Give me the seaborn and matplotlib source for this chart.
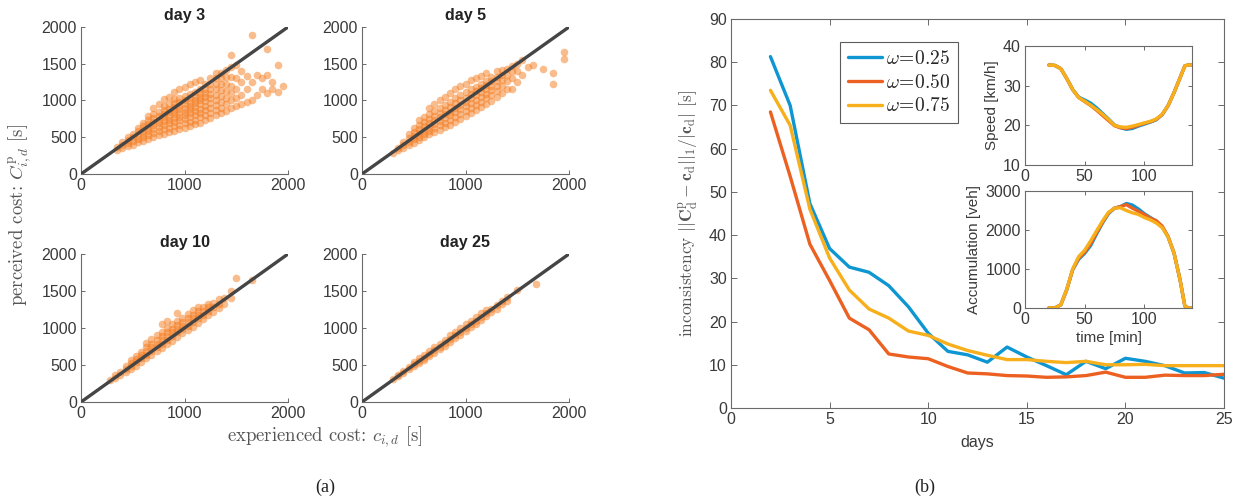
import numpy as np
import pandas as pd
import matplotlib
matplotlib.use("Agg")
import matplotlib.pyplot as plt
from matplotlib.lines import Line2D
import seaborn as sns

# ---------------- data: panel (a) scatter clouds ----------------
cost_limits = [0, 2000]
cost_ticks = [0, 500, 1000, 1500, 2000]
cost_xticks = [0, 1000, 2000]

day3_cols = [350, 400, 450, 500, 550, 600, 650, 700, 750, 800, 850, 900, 950, 1000, 1050,
             1100, 1150, 1200, 1250, 1300, 1350, 1400, 1450, 1500, 1550, 1600, 1650, 1700,
             1750, 1800, 1850, 1900, 1950]
day3_vals = [[330, 370], [360, 400, 430], [380, 420, 460, 500], [400, 450, 500, 540],
             [430, 480, 530, 580, 620], [450, 500, 550, 600, 650, 700],
             [480, 530, 580, 630, 680, 730, 790], [500, 560, 610, 660, 710, 760, 820, 900],
             [530, 590, 640, 690, 740, 790, 850, 950],
             [550, 610, 670, 720, 770, 820, 870, 930, 1020],
             [570, 630, 690, 740, 790, 840, 890, 950, 1050],
             [590, 650, 710, 760, 810, 860, 910, 960, 1020, 1120],
             [610, 670, 730, 780, 830, 880, 930, 980, 1040, 1150],
             [630, 690, 750, 800, 850, 900, 950, 1000, 1060, 1180],
             [650, 710, 770, 830, 880, 930, 980, 1030, 1090, 1220],
             [680, 740, 800, 860, 910, 960, 1010, 1060, 1110, 1250],
             [700, 770, 830, 890, 950, 1000, 1050, 1100, 1150, 1280],
             [730, 800, 870, 930, 990, 1050, 1100, 1160, 1230],
             [760, 830, 900, 970, 1030, 1090, 1150, 1220, 1300],
             [800, 870, 940, 1010, 1080, 1150, 1220, 1300, 1370],
             [830, 900, 980, 1060, 1140, 1220, 1300, 1380],
             [860, 950, 1040, 1130, 1220, 1320, 1420],
             [900, 1000, 1100, 1200, 1320, 1450, 1620],
             [920, 1040, 1160, 1300, 1480], [950, 1080, 1250, 1400], [980, 1150, 1330],
             [1000, 1250, 1890], [1080, 1350], [1150, 1300], [1100, 1350, 1700],
             [1150, 1250], [1120, 1480], [1200]]

day5_cols = [300, 350, 400, 450, 500, 550, 600, 650, 700, 750, 800, 850, 900, 950, 1000,
             1050, 1100, 1150, 1200, 1250, 1300, 1350, 1400, 1450, 1500, 1550, 1600, 1650,
             1750, 1850, 1950]
day5_vals = [[280], [320, 360], [350, 400, 440], [390, 440, 490, 540],
             [420, 470, 520, 570, 630], [460, 510, 560, 610, 670, 730],
             [500, 550, 600, 650, 710, 780], [540, 590, 640, 690, 750, 820, 900],
             [570, 630, 680, 730, 790, 860, 950], [600, 660, 720, 770, 830, 900, 1000],
             [640, 700, 760, 810, 870, 940, 1050], [670, 740, 800, 850, 910, 980, 1100],
             [710, 780, 840, 900, 960, 1030, 1150], [750, 820, 880, 940, 1000, 1070, 1200],
             [790, 860, 920, 980, 1040, 1110, 1230], [830, 900, 960, 1030, 1090, 1150, 1280],
             [870, 940, 1000, 1070, 1130, 1190, 1300], [910, 980, 1050, 1110, 1170, 1230, 1330],
             [950, 1030, 1090, 1150, 1210, 1270, 1380], [990, 1070, 1140, 1200, 1260, 1320],
             [1050, 1130, 1200, 1260, 1320, 1400], [1100, 1200, 1280, 1350, 1420],
             [1150, 1260, 1350, 1430], [1150, 1300, 1400, 1470], [1250, 1400, 1500],
             [1350, 1550], [1450], [1480], [1430], [1230, 1380], [1570, 1660]]

day10_cols = [280, 330, 380, 430, 480, 530, 580, 630, 680, 730, 780, 830, 880, 930, 980,
              1030, 1080, 1130, 1180, 1230, 1280, 1330, 1380, 1450, 1500, 1650]
day10_vals = [[300], [330, 360], [370, 400], [410, 450, 480], [450, 490, 530, 570],
              [490, 540, 580, 620], [540, 590, 630, 680], [590, 640, 690, 740, 800],
              [640, 690, 740, 790, 850], [690, 740, 790, 840, 900],
              [730, 790, 840, 890, 950, 1050], [780, 840, 890, 940, 1000, 1100],
              [830, 890, 940, 990, 1050], [880, 940, 990, 1040, 1100, 1200],
              [930, 980, 1030, 1080, 1140], [970, 1030, 1080, 1130, 1190],
              [1020, 1080, 1130, 1180, 1240], [1070, 1130, 1180, 1230, 1290],
              [1120, 1180, 1230, 1280], [1170, 1230, 1280, 1330], [1220, 1280, 1340],
              [1270, 1330, 1390], [1320, 1400], [1400, 1500], [1680], [1650]]

day25_cols = [300, 350, 400, 450, 500, 550, 600, 650, 700, 750, 800, 850, 900, 950, 1000,
              1050, 1100, 1150, 1200, 1250, 1300, 1350, 1400, 1500, 1680]
day25_vals = [[310], [350, 370], [390, 420], [440, 470], [480, 510, 540], [530, 560, 590],
              [570, 600, 640], [620, 650, 690], [660, 700, 740], [710, 750, 790],
              [760, 800, 840], [810, 850, 900], [860, 900, 950], [910, 950, 1000],
              [960, 1000, 1050], [1010, 1050, 1100], [1060, 1100, 1150], [1110, 1150, 1200],
              [1160, 1200, 1250], [1210, 1260], [1260, 1310], [1320, 1370], [1370, 1420],
              [1510], [1600]]

scatter_titles = ["day 3", "day 5", "day 10", "day 25"]

# ---------------- data: panel (b) ----------------
days = list(range(2, 26))
incons_025 = [81.3, 70.0, 47.3, 36.9, 32.6, 31.4, 28.3, 23.4, 17.3, 13.1, 12.3, 10.6, 14.1,
              11.8, 9.8, 7.7, 10.8, 9.1, 11.5, 10.8, 9.8, 8.1, 8.2, 6.9]
incons_050 = [68.5, 53.6, 37.9, 29.5, 20.8, 18.1, 12.5, 11.8, 11.4, 9.6, 8.1, 7.9, 7.5,
              7.4, 7.1, 7.2, 7.5, 8.3, 7.1, 7.1, 7.6, 7.5, 7.5, 7.8]
incons_075 = [73.5, 65.4, 46.0, 34.7, 27.3, 22.9, 20.8, 17.8, 16.8, 14.8, 13.3, 12.2, 11.2,
              11.2, 10.8, 10.5, 10.8, 10.0, 10.0, 10.1, 9.8, 9.8, 9.8, 9.8]
omega_labels = [r"$\omega\!=\!0.25$", r"$\omega\!=\!0.50$", r"$\omega\!=\!0.75$"]

time_min = [20, 25, 30, 35, 40, 45, 50, 55, 60, 65, 70, 75, 80, 85, 90, 95, 100, 105, 110,
            115, 120, 125, 130, 134, 137, 140]
speed_025 = [35.2, 35.1, 34.3, 31.8, 29.0, 27.1, 26.4, 25.6, 24.4, 23.0, 21.6, 20.1, 19.4,
             19.0, 19.2, 19.8, 20.3, 20.8, 21.4, 22.7, 25.0, 28.3, 32.0, 35.0, 35.2, 35.2]
speed_050 = [35.2, 35.1, 34.3, 31.8, 29.0, 27.0, 26.0, 25.0, 23.8, 22.5, 21.2, 19.9, 19.4,
             19.2, 19.5, 20.0, 20.5, 20.9, 21.5, 22.7, 25.0, 28.3, 32.0, 35.0, 35.2, 35.2]
speed_075 = [35.2, 35.1, 34.3, 31.8, 29.0, 27.0, 26.1, 25.1, 24.0, 22.8, 21.5, 20.0, 19.6,
             19.5, 19.8, 20.2, 20.6, 21.0, 21.6, 22.8, 25.0, 28.3, 32.0, 35.0, 35.2, 35.2]
acc_025 = [0, 0, 80, 470, 980, 1250, 1400, 1600, 1900, 2180, 2420, 2560, 2600, 2680, 2640,
           2540, 2420, 2320, 2230, 2080, 1820, 1400, 720, 50, 0, 0]
acc_050 = [0, 0, 80, 470, 990, 1280, 1430, 1650, 1930, 2200, 2440, 2560, 2600, 2650, 2560,
           2480, 2400, 2300, 2240, 2100, 1830, 1400, 720, 50, 0, 0]
acc_075 = [0, 0, 80, 480, 1000, 1320, 1480, 1720, 1980, 2230, 2450, 2560, 2570, 2500, 2440,
           2400, 2320, 2260, 2180, 2060, 1820, 1400, 720, 50, 0, 0]

# ---------------- style ----------------
sns.set_style("ticks")
plt.rcParams['font.family'] = ['Liberation Sans', 'DejaVu Sans']
plt.rcParams['mathtext.fontset'] = 'cm'
plt.rcParams['axes.unicode_minus'] = False

SCATTER_C = "#F47A1C"
DIAG_C = "#454545"
LINE_COLORS = ["#0E96D2", "#EC6121", "#F7AF1C"]
TXT = "#3a3a3a"
SPINE = "#6a6a6a"
TICK_FS = 11.5
SERIF = ["cmr10", "DejaVu Serif"]

fig = plt.figure(figsize=(12.44, 5.03), dpi=100)
W, H = 1244, 503


def box(l, t, r, b):
    return [l / W, 1 - b / H, (r - l) / W, (b - t) / H]


def expand(cols, vals):
    xs = [c for c, v in zip(cols, vals) for _ in v]
    ys = [y for v in vals for y in v]
    return xs, ys


def style_axes(ax, full_box=False):
    for side in ["top", "right"]:
        ax.spines[side].set_visible(full_box)
    for sp in ax.spines.values():
        sp.set_color(SPINE)
        sp.set_linewidth(0.8)
    ax.tick_params(direction="in", length=3, width=0.7, color=SPINE, labelcolor=TXT,
                   labelsize=TICK_FS, top=full_box, right=full_box, pad=3)


scatter_boxes = [box(81, 27, 288, 174), box(362, 27, 569, 174),
                 box(81, 254, 288, 402), box(362, 254, 569, 402)]
scatter_sets = [(day3_cols, day3_vals), (day5_cols, day5_vals),
                (day10_cols, day10_vals), (day25_cols, day25_vals)]

for rect, (cols, vals), title in zip(scatter_boxes, scatter_sets, scatter_titles):
    ax = fig.add_axes(rect)
    xs, ys = expand(cols, vals)
    sns.scatterplot(x=xs, y=ys, ax=ax, s=30, color=SCATTER_C, alpha=0.5, linewidth=0,
                    legend=False, zorder=2)
    sns.lineplot(x=cost_limits, y=cost_limits, ax=ax, color=DIAG_C, linewidth=2.4, zorder=3)
    ax.set_xlim(cost_limits)
    ax.set_ylim(cost_limits)
    ax.set_xticks(cost_xticks)
    ax.set_yticks(cost_ticks)
    ax.set_title(title, fontsize=11.5, fontweight="bold", color="#222222", pad=5)
    style_axes(ax)
    ax.margins(0)

fig.text(20 / W, 1 - 215 / H, r"perceived cost: $C^{\mathrm{p}}_{i,d}$ [s]",
         rotation=90, ha="center", va="center", fontsize=13.5, color="#555555",
         family=SERIF)
fig.text(325 / W, 1 - 437 / H, r"experienced cost: $c_{i,d}$ [s]",
         ha="center", va="center", fontsize=13.5, color="#555555", family=SERIF)

# ---------------- panel (b) main ----------------
axm = fig.add_axes(box(731, 19, 1224, 408))
df = pd.DataFrame({
    "day": days * 3,
    "value": incons_025 + incons_050 + incons_075,
    "omega": [omega_labels[0]] * len(days) + [omega_labels[1]] * len(days)
             + [omega_labels[2]] * len(days),
})
sns.lineplot(data=df, x="day", y="value", hue="omega", palette=LINE_COLORS, linewidth=2.4,
             ax=axm, legend=False)
axm.set_xlim(0, 25)
axm.set_ylim(0, 90)
axm.set_xticks(range(0, 26, 5))
axm.set_yticks(range(0, 91, 10))
style_axes(axm, full_box=True)
axm.tick_params(length=4)
axm.set_xlabel("days", fontsize=11.5, color=TXT, labelpad=6)
axm.set_ylabel(r"inconsistency $||\mathbf{C}^{\mathrm{p}}_{\mathrm{d}}-\mathbf{c}_{\mathrm{d}}||_1/|\mathbf{c}_{\mathrm{d}}|$ [s]",
               fontsize=12.5, color="#555555", labelpad=6, family=SERIF)

handles = [Line2D([], [], color=c, linewidth=2.4) for c in LINE_COLORS]
leg = axm.legend(handles, omega_labels, loc="upper left", bbox_to_anchor=(0.221, 0.941),
                 borderaxespad=0, fontsize=14, handlelength=1.75, handletextpad=0.2,
                 labelspacing=0.3, borderpad=0.4, frameon=True, fancybox=False)
leg.get_frame().set_edgecolor("#333333")
leg.get_frame().set_linewidth(0.8)

# ---------------- insets ----------------
ax_s = fig.add_axes(box(1025, 46, 1192, 165))
sdf = pd.DataFrame({
    "t": time_min * 3,
    "v": speed_025 + speed_050 + speed_075,
    "omega": [omega_labels[0]] * len(time_min) + [omega_labels[1]] * len(time_min)
             + [omega_labels[2]] * len(time_min),
})
sns.lineplot(data=sdf, x="t", y="v", hue="omega", palette=LINE_COLORS, linewidth=2.4,
             ax=ax_s, legend=False)
ax_s.set_xlim(0, 140)
ax_s.set_ylim(10, 40)
ax_s.set_xticks([0, 50, 100])
ax_s.set_yticks([10, 20, 30, 40])
style_axes(ax_s, full_box=True)
ax_s.set_xlabel("")
ax_s.set_ylabel("Speed [km/h]", fontsize=11, color=TXT, labelpad=3)

ax_a = fig.add_axes(box(1025, 191, 1192, 308))
adf = pd.DataFrame({
    "t": time_min * 3,
    "v": acc_025 + acc_050 + acc_075,
    "omega": [omega_labels[0]] * len(time_min) + [omega_labels[1]] * len(time_min)
             + [omega_labels[2]] * len(time_min),
})
sns.lineplot(data=adf, x="t", y="v", hue="omega", palette=LINE_COLORS, linewidth=2.4,
             ax=ax_a, legend=False)
ax_a.set_xlim(0, 140)
ax_a.set_ylim(0, 3000)
ax_a.set_xticks([0, 50, 100])
ax_a.set_yticks([0, 1000, 2000, 3000])
style_axes(ax_a, full_box=True)
ax_a.set_xlabel("time [min]", fontsize=11, color=TXT, labelpad=3)
ax_a.set_ylabel("Accumulation [veh]", fontsize=11, color=TXT, labelpad=3)

# captions
fig.text(325 / W, 1 - 487 / H, "(a)", ha="center", va="center", fontsize=13,
         family=["Liberation Serif", "DejaVu Serif"], color="#222222")
fig.text(925 / W, 1 - 487 / H, "(b)", ha="center", va="center", fontsize=13,
         family=["Liberation Serif", "DejaVu Serif"], color="#222222")

fig.savefig("out.png", dpi=100, facecolor="white")
